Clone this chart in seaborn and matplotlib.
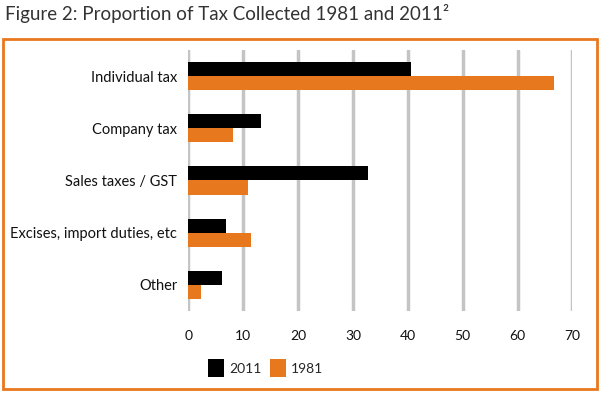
import pandas as pd
import matplotlib
import matplotlib.pyplot as plt
import seaborn as sns
from matplotlib.patches import Rectangle

matplotlib.use('Agg')

# --- DATA ---
categories = ["Individual tax", "Company tax", "Sales taxes / GST",
              "Excises, import duties, etc", "Other"]
share_2011 = [40.6, 13.3, 32.7, 6.8, 6.2]
share_1981 = [66.6, 8.2, 10.8, 11.5, 2.3]
years = ["2011", "1981"]
xticks = [0, 10, 20, 30, 40, 50, 60, 70]

df = pd.DataFrame({
    "category": categories * 2,
    "year": [years[0]] * len(categories) + [years[1]] * len(categories),
    "share": share_2011 + share_1981,
})

# --- STYLE ---
sns.set_style("white")
plt.rcParams['font.family'] = ['Lato', 'DejaVu Sans']

orange = "#E8781E"
palette = {"2011": "#000000", "1981": orange}

fig = plt.figure(figsize=(6, 3.94), dpi=100)
ax = fig.add_axes([0.314, 0.211, 0.640, 0.662])

sns.barplot(data=df, x="share", y="category", hue="year", order=categories,
            hue_order=years, palette=palette, width=0.54, ax=ax,
            edgecolor="none", saturation=1, legend=True)

ax.set_xlim(0, 70)
ax.set_ylim(4.5, -0.5)
ax.set_xticks(xticks)
ax.set_axisbelow(True)
ax.xaxis.grid(True, color="#c4c4c4", linewidth=2.5)
ax.yaxis.grid(False)
for s in ax.spines.values():
    s.set_visible(False)
ax.tick_params(axis='x', length=0, pad=14, labelsize=10, labelcolor="#111111")
ax.tick_params(axis='y', length=0, pad=8, labelsize=10.5, labelcolor="#111111")
ax.set_xlabel("")
ax.set_ylabel("")

# legend below the plot
handles, labels = ax.get_legend_handles_labels()
ax.get_legend().remove()
fig.legend(handles, labels, loc="center", bbox_to_anchor=(0.443, 0.066),
           ncol=2, frameon=False, fontsize=10, handlelength=1.15,
           handleheight=1.7, handletextpad=0.35, columnspacing=0.6)

# title and orange frame
fig.text(0.008, 0.965, "Figure 2: Proportion of Tax Collected 1981 and 2011\u00b2",
         fontsize=13.5, color="#333333", va="center", ha="left")
fig.patches.append(Rectangle((0.005, 0.012), 0.99, 0.89, transform=fig.transFigure,
                             fill=False, edgecolor=orange, linewidth=2))

plt.savefig("out.png", dpi=100)
